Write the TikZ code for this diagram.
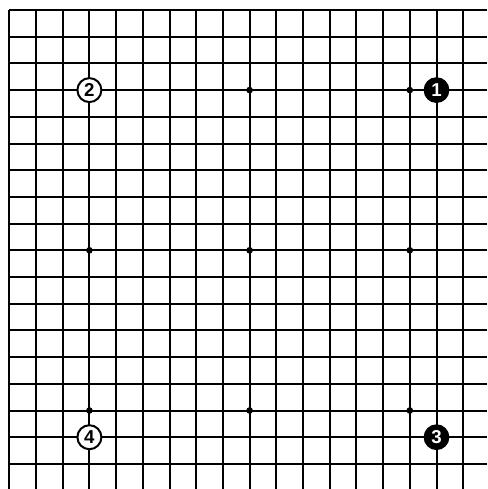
\documentclass[tikz,border=0pt]{standalone}
\usepackage{fontspec}
\setmainfont{Liberation Sans}
\begin{document}
\begin{tikzpicture}[x=0.75pt,y=-0.75pt,
  gridline/.style={line width=1.5pt,black},
  hoshi/.style={circle,fill=black,inner sep=0pt,minimum size=5pt},
  blackstone/.style={circle,fill=black,draw=black,line width=0.8pt,inner sep=0pt,minimum size=18.5pt,text=white,font=\bfseries\fontsize{14}{14}\selectfont},
  whitestone/.style={circle,fill=white,draw=black,line width=1.5pt,inner sep=0pt,minimum size=18pt,text=black,font=\bfseries\fontsize{14}{14}\selectfont}]
\useasboundingbox (0,0) rectangle (487,489);
\fill[white] (0,0) rectangle (487,489);
\def\dd{26.7}
\foreach \i in {0,...,17} {
  \draw[gridline] ({9.3+\dd*\i},10) -- ({9.3+\dd*\i},489);
  \draw[gridline] (9.3,{10+\dd*\i}) -- (487,{10+\dd*\i});
}
% star points
\node[hoshi] (h1) at ({9.3+\dd*9},{10+\dd*3}) {};
\node[hoshi] (h2) at ({9.3+\dd*15},{10+\dd*3}) {};
\node[hoshi] (h3) at ({9.3+\dd*3},{10+\dd*9}) {};
\node[hoshi] (h4) at ({9.3+\dd*9},{10+\dd*9}) {};
\node[hoshi] (h5) at ({9.3+\dd*15},{10+\dd*9}) {};
\node[hoshi] (h6) at ({9.3+\dd*3},{10+\dd*15}) {};
\node[hoshi] (h7) at ({9.3+\dd*9},{10+\dd*15}) {};
\node[hoshi] (h8) at ({9.3+\dd*15},{10+\dd*15}) {};
% stones
\node[blackstone] (s1) at ({9.3+\dd*16},{10+\dd*3}) {1};
\node[whitestone] (s2) at ({9.3+\dd*3},{10+\dd*3}) {2};
\node[blackstone] (s3) at ({9.3+\dd*16},{10+\dd*16}) {3};
\node[whitestone] (s4) at ({9.3+\dd*3},{10+\dd*16}) {4};
\end{tikzpicture}
\end{document}
